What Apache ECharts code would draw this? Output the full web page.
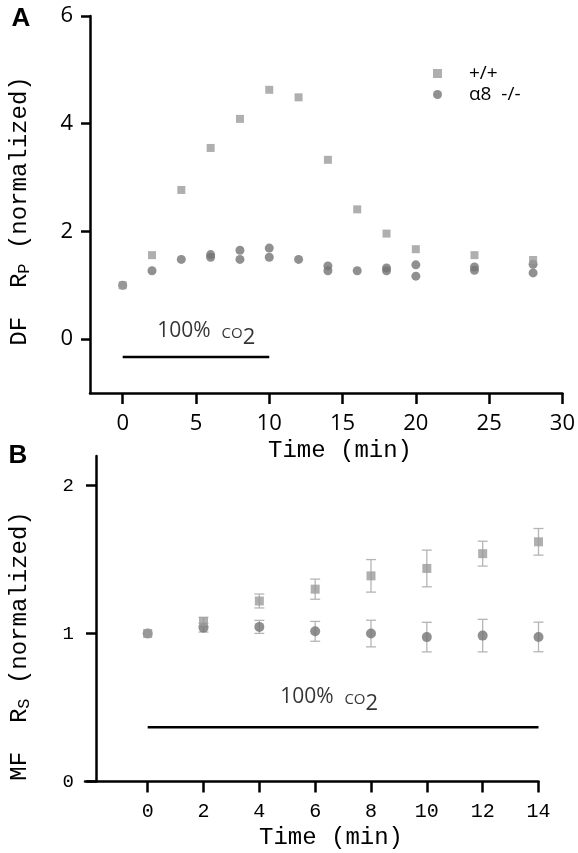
<!DOCTYPE html>
<html><head><meta charset="utf-8">
<script src="https://cdn.jsdelivr.net/npm/echarts@6/dist/echarts.min.js"></script>
<style>html,body{margin:0;padding:0;background:#fff}#c{width:578px;height:853px}</style>
</head><body><div id="c"></div>
<script>
// ---------- Panel A data ----------
const timeA = [0, 2, 4, 6, 8, 10, 12, 14, 16, 18, 20, 24, 28];
const wtA   = [1.0, 1.56, 2.77, 3.55, 4.09, 4.63, 4.49, 3.33, 2.41, 1.96, 1.67, 1.56, 1.47];
const koA1  = [1.0, 1.27, 1.48, 1.57, 1.65, 1.69, 1.48, 1.36, 1.27, 1.32, 1.38, 1.34, 1.39];
const koA2  = [null, null, null, 1.52, 1.48, 1.52, null, 1.27, null, 1.27, 1.17, 1.28, 1.23];
const xTicksA = [0, 5, 10, 15, 20, 25, 30];
const yTicksA = [0, 2, 4, 6];
const co2SpanA = [0, 10];
const co2LevelA = -0.33;

// ---------- Panel B data ----------
const timeB   = [0, 2, 4, 6, 8, 10, 12, 14];
const wtB     = [1.0, 1.08, 1.22, 1.30, 1.39, 1.44, 1.54, 1.62];
const wtBErr  = [0, 0.03, 0.047, 0.068, 0.11, 0.124, 0.084, 0.09];
const koB     = [1.0, 1.04, 1.045, 1.015, 1.0, 0.976, 0.986, 0.977];
const koBErr  = [0, 0.03, 0.044, 0.067, 0.09, 0.10, 0.11, 0.10];
const xTicksB = [0, 2, 4, 6, 8, 10, 12, 14];
const yTicksB = [0, 1, 2];
const co2SpanB = [0, 14];
const co2LevelB = 0.367;

const seriesNames = ['+/+', 'α8 -/-'];

// ---------- build ----------
const SQ = '#9b9b9b', CI = '#747474', ERR = '#b5b5b5';
const pairs = (xs, ys) => xs.map((x, i) => [x, ys[i]]).filter(p => p[1] != null);
const koAData = pairs(timeA, koA1).concat(pairs(timeA, koA2));

function errRender(params, api) {
  const x = api.value(0), y = api.value(1), e = api.value(2);
  if (!e) return null;
  const t = api.coord([x, y + e]), b = api.coord([x, y - e]);
  const w = 5, st = {stroke: ERR, lineWidth: 1.3};
  return {type: 'group', children: [
    {type: 'line', shape: {x1: t[0], y1: t[1], x2: b[0], y2: b[1]}, style: st},
    {type: 'line', shape: {x1: t[0] - w, y1: t[1], x2: t[0] + w, y2: t[1]}, style: st},
    {type: 'line', shape: {x1: b[0] - w, y1: b[1], x2: b[0] + w, y2: b[1]}, style: st}
  ]};
}

const axLine = {show: true, onZero: false, lineStyle: {color: '#000', width: 2.5}};
const tickSt = {color: '#000', width: 2.5};
const MONO = '"Liberation Mono", "DejaVu Sans Mono", monospace';
const SANS = '"Open Sans", "Noto Sans", sans-serif';

const co2Rich = {
  a: {fontFamily: SANS, fontSize: 21, color: '#000'},
  c: {fontFamily: SANS, fontSize: 15, color: '#000', padding: [5, 0, 0, 0]},
  s: {fontFamily: SANS, fontSize: 22, color: '#000', padding: [14, 0, 0, 0]}
};
const co2Text = '{a|100%  }{c|CO}{s|2}';

const option = {
  animation: false,
  grid: [
    {left: 90, top: 16, width: 473, height: 377},
    {left: 85, top: 456, width: 453.5, height: 325.5}
  ],
  xAxis: [
    {gridIndex: 0, type: 'value', min: -2.23, max: 30,
      axisLine: axLine, splitLine: {show: false},
      axisTick: {show: true, customValues: xTicksA, length: 11, lineStyle: tickSt},
      axisLabel: {customValues: xTicksA, margin: 20, fontFamily: SANS, fontSize: 22, color: '#000'}},
    {gridIndex: 1, type: 'value', min: -2.245, max: 14,
      axisLine: axLine, splitLine: {show: false},
      axisTick: {show: true, customValues: xTicksB, length: 11, lineStyle: tickSt},
      axisLabel: {customValues: xTicksB, margin: 20, fontFamily: MONO, fontSize: 20, color: '#000'}}
  ],
  yAxis: [
    {gridIndex: 0, type: 'value', min: -1, max: 6,
      axisLine: axLine, splitLine: {show: false},
      axisTick: {show: true, customValues: yTicksA, length: 9, lineStyle: tickSt},
      axisLabel: {customValues: yTicksA, margin: 17, fontFamily: SANS, fontSize: 22, color: '#000'}},
    {gridIndex: 1, type: 'value', min: 0, max: 2.2, offset: -11,
      axisLine: axLine, splitLine: {show: false},
      axisTick: {show: true, customValues: yTicksB, length: 10, lineStyle: tickSt},
      axisLabel: {customValues: yTicksB, margin: 22, fontFamily: MONO, fontSize: 19, color: '#000'}}
  ],
  legend: {
    data: [{name: seriesNames[0], icon: 'rect'}, {name: seriesNames[1], icon: 'circle'}],
    orient: 'vertical', left: 428, top: 58, itemWidth: 9, itemHeight: 9, itemGap: 0,
    selectedMode: false,
    formatter: n => n.replace(' ', '  '),
    textStyle: {fontFamily: SANS, fontSize: 19, color: '#000', lineHeight: 21, padding: [0, 0, 0, 22]}
  },
  graphic: [
    {type: 'text', x: 21, y: 19, style: {text: 'A', align: 'center', verticalAlign: 'middle', font: 'bold 26px "Liberation Sans", Arial', fill: '#000'}},
    {type: 'text', x: 18, y: 456, style: {text: 'B', align: 'center', verticalAlign: 'middle', font: 'bold 26px "Liberation Sans", Arial', fill: '#000'}},
    {type: 'text', x: 340, y: 451, style: {text: 'Time (min)', align: 'center', verticalAlign: 'middle', font: '24px ' + MONO, fill: '#000'}},
    {type: 'text', x: 331, y: 838, style: {text: 'Time (min)', align: 'center', verticalAlign: 'middle', font: '24px ' + MONO, fill: '#000'}},
    {type: 'text', x: 20, y: 211, rotation: Math.PI / 2, style: {
      text: '{n|DF  R}{s|P}{n| (normalized)}', align: 'center', verticalAlign: 'middle',
      rich: {n: {fontFamily: MONO, fontSize: 24, fill: '#000'}, s: {fontFamily: MONO, fontSize: 17, fill: '#000', padding: [8, 0, 0, 0]}}}},
    {type: 'text', x: 20, y: 646, rotation: Math.PI / 2, style: {
      text: '{n|MF  R}{s|S}{n| (normalized)}', align: 'center', verticalAlign: 'middle',
      rich: {n: {fontFamily: MONO, fontSize: 24, fill: '#000'}, s: {fontFamily: MONO, fontSize: 17, fill: '#000', padding: [8, 0, 0, 0]}}}}
  ],
  series: [
    // Panel A
    {type: 'line', xAxisIndex: 0, yAxisIndex: 0, symbol: 'none', silent: true,
      data: co2SpanA.map(t => [t, co2LevelA]), lineStyle: {color: '#000', width: 2.5}},
    {type: 'scatter', xAxisIndex: 0, yAxisIndex: 0, symbolSize: 0, silent: true,
      data: [[5.7, 0.15]],
      label: {show: true, position: 'inside', formatter: co2Text, rich: co2Rich}},
    {name: seriesNames[1], type: 'scatter', xAxisIndex: 0, yAxisIndex: 0, symbol: 'circle', symbolSize: 9,
      itemStyle: {color: CI}, data: koAData},
    {name: seriesNames[0], type: 'scatter', xAxisIndex: 0, yAxisIndex: 0, symbol: 'rect', symbolSize: 8,
      itemStyle: {color: SQ}, data: pairs(timeA, wtA)},
    // Panel B
    {type: 'line', xAxisIndex: 1, yAxisIndex: 1, symbol: 'none', silent: true,
      data: co2SpanB.map(t => [t, co2LevelB]), lineStyle: {color: '#000', width: 2.5}},
    {type: 'scatter', xAxisIndex: 1, yAxisIndex: 1, symbolSize: 0, silent: true,
      data: [[6.5, 0.57]],
      label: {show: true, position: 'inside', formatter: co2Text, rich: co2Rich}},
    {type: 'custom', xAxisIndex: 1, yAxisIndex: 1, renderItem: errRender, silent: true,
      encode: {x: 0, y: 1}, data: timeB.map((t, i) => [t, koB[i], koBErr[i]])},
    {type: 'custom', xAxisIndex: 1, yAxisIndex: 1, renderItem: errRender, silent: true,
      encode: {x: 0, y: 1}, data: timeB.map((t, i) => [t, wtB[i], wtBErr[i]])},
    {name: seriesNames[1], type: 'scatter', xAxisIndex: 1, yAxisIndex: 1, symbol: 'circle', symbolSize: 10,
      itemStyle: {color: CI}, data: pairs(timeB, koB)},
    {name: seriesNames[0], type: 'scatter', xAxisIndex: 1, yAxisIndex: 1, symbol: 'rect', symbolSize: 9,
      itemStyle: {color: SQ}, data: pairs(timeB, wtB)}
  ]
};

const chart = echarts.init(document.getElementById('c'), null, {renderer: 'canvas'});
chart.setOption(option);
</script>
</body></html>
